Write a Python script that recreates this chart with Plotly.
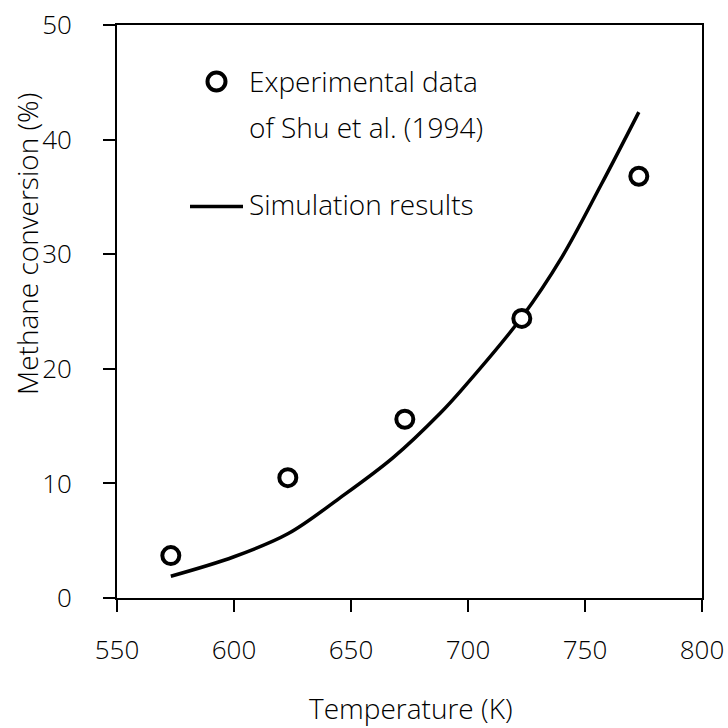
import plotly.graph_objects as go

exp_T = [573, 623, 673, 723, 773]
exp_X = [3.7, 10.5, 15.6, 24.4, 36.8]

sim_T = [573, 600, 623, 645, 668, 688, 697, 723, 740, 757, 773]
sim_X = [1.9, 3.6, 5.6, 8.7, 12.25, 16.1, 18.1, 24.5, 29.7, 36.1, 42.4]

x_ticks = [550, 600, 650, 700, 750, 800]
y_ticks = [0, 10, 20, 30, 40, 50]

FONT = "Open Sans"
TXT = "#000000"
WT = 300

fig = go.Figure()
fig.add_trace(go.Scatter(x=sim_T, y=sim_X, mode="lines", line=dict(color="black", width=3.5, shape="spline"),
                         showlegend=False))
fig.add_trace(go.Scatter(x=exp_T, y=exp_X, mode="markers",
                         marker=dict(symbol="circle", size=17, color="white", line=dict(color="black", width=4)),
                         showlegend=False))

W, H = 728, 728
l, r, t, b = 117, 26, 25, 130
pw, ph = W - l - r, H - t - b
def px(x): return (x - l) / pw
def py(y): return (H - b - y) / ph

# legend drawn manually
fig.add_shape(type="circle", xref="paper", yref="paper",
              x0=px(216.5 - 9), x1=px(216.5 + 9), y0=py(81.5 + 9), y1=py(81.5 - 9),
              line=dict(color="black", width=4), fillcolor="white")
fig.add_shape(type="line", xref="paper", yref="paper",
              x0=px(190), x1=px(243), y0=py(206.5), y1=py(206.5), line=dict(color="black", width=3.5))
for txt, yy in [("Experimental data", 81), ("of Shu et al. (1994)", 127), ("Simulation results", 204)]:
    fig.add_annotation(text=txt, xref="paper", yref="paper", x=px(247), y=py(yy), xanchor="left",
                       yanchor="middle", showarrow=False, font=dict(family=FONT, size=28, color=TXT, weight=WT))

# axis titles
fig.add_annotation(text="Temperature (K)", xref="paper", yref="paper", x=px(411), y=py(708),
                   xanchor="center", yanchor="middle", showarrow=False,
                   font=dict(family=FONT, size=28, color=TXT, weight=WT))
fig.add_annotation(text="Methane conversion (%)", xref="paper", yref="paper", x=px(27), y=py(244),
                   xanchor="center", yanchor="middle", textangle=-90, showarrow=False,
                   font=dict(family=FONT, size=28, color=TXT, weight=WT))

axis_common = dict(showline=True, linecolor="black", linewidth=1.8, mirror=True, ticks="outside",
                   ticklen=12, tickwidth=1.8, tickcolor="black", showgrid=False, zeroline=False,
                   automargin=False, tickfont=dict(family=FONT, size=26, color=TXT, weight=WT))
fig.update_xaxes(range=[550, 800], tickvals=x_ticks, ticklabelstandoff=16, **axis_common)
fig.update_yaxes(range=[0, 50], tickvals=y_ticks, ticklabelstandoff=26, **axis_common)
fig.update_layout(width=W, height=H, margin=dict(l=l, r=r, t=t, b=b), plot_bgcolor="white",
                  paper_bgcolor="white", showlegend=False)
fig.write_html("out.html")
